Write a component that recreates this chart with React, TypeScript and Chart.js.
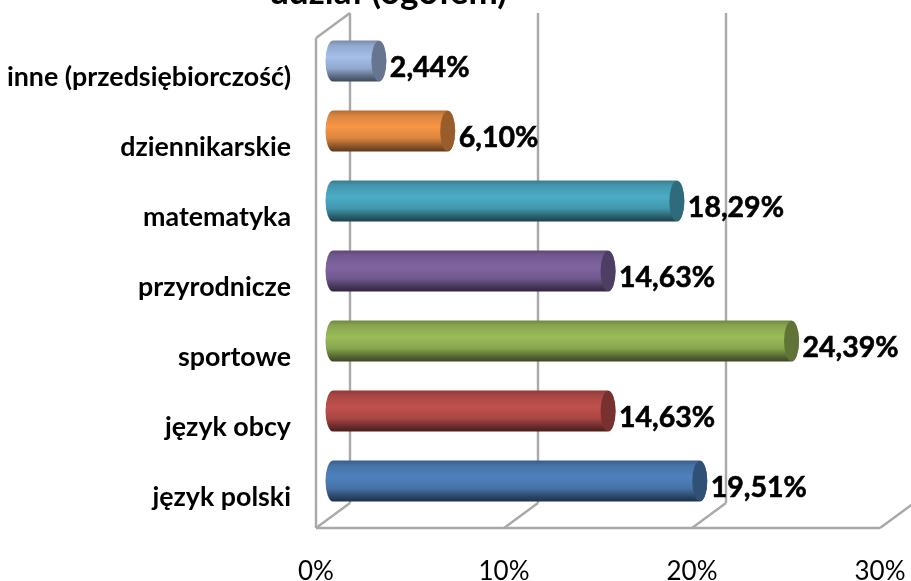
import React, { useEffect, useRef } from "react";
import { Chart, registerables } from "chart.js";

Chart.register(...registerables);

const titleText = "udział (ogółem)";
const categories = ["inne (przedsiębiorczość)", "dziennikarskie", "matematyka", "przyrodnicze", "sportowe", "język obcy", "język polski"];
const shares = [2.44, 6.1, 18.29, 14.63, 24.39, 14.63, 19.51];
const shareLabels = ["2,44%", "6,10%", "18,29%", "14,63%", "24,39%", "14,63%", "19,51%"];
const barColors = ["#a5bfea", "#f79646", "#4bacc6", "#8064a2", "#9bbb59", "#c0504d", "#4f81bd"];
const axisMax = 30;
const axisStep = 10;

const DEPTH_X = 34;
const DEPTH_Y = 25;
const BAR_DX = 17;
const BAR_DY = -12;
const CAP_RX = 7.5;
const FONT = "Lato, Carlito, sans-serif";

function shade(hex: string, f: number) {
  const n = parseInt(hex.slice(1), 16);
  const c = [(n >> 16) & 255, (n >> 8) & 255, n & 255].map((v) => Math.round(v * f));
  return `rgb(${c[0]},${c[1]},${c[2]})`;
}

function line(ctx: CanvasRenderingContext2D, x1: number, y1: number, x2: number, y2: number) {
  ctx.beginPath();
  ctx.moveTo(x1, y1);
  ctx.lineTo(x2, y2);
  ctx.stroke();
}

const cylinderPlugin = {
  id: "cylinder",
  beforeDatasetsDraw(chart: any) {
    const { ctx, scales } = chart;
    const sx = scales.x;
    const sy = scales.y;
    ctx.save();
    ctx.strokeStyle = "#a9a9a9";
    ctx.lineWidth = 2.4;
    line(ctx, sx.left, sy.top, sx.left, sy.bottom);
    line(ctx, sx.left, sy.top, sx.left + DEPTH_X, sy.top - DEPTH_Y);
    line(ctx, sx.left, sy.bottom, sx.right, sy.bottom);
    for (const t of sx.ticks) {
      const x = sx.getPixelForValue(t.value);
      line(ctx, x, sy.bottom, x + DEPTH_X, sy.bottom - DEPTH_Y);
      line(ctx, x + DEPTH_X, sy.bottom - DEPTH_Y, x + DEPTH_X, sy.top - DEPTH_Y);
    }
    ctx.restore();
  },
  beforeDatasetDraw() {
    return false;
  },
  afterDatasetsDraw(chart: any) {
    const { ctx } = chart;
    const meta = chart.getDatasetMeta(0);
    const colors = chart.data.datasets[0].backgroundColor;
    meta.data.forEach((el: any, i: number) => {
      const { x, y, base, height } = el.getProps(["x", "y", "base", "height"], true);
      const top = y - height / 2 + BAR_DY;
      const bottom = y + height / 2 + BAR_DY;
      const mid = (top + bottom) / 2;
      const x0 = base + BAR_DX;
      const x1 = x + BAR_DX;
      const c = colors[i];
      const g = ctx.createLinearGradient(0, top, 0, bottom);
      g.addColorStop(0, shade(c, 0.72));
      g.addColorStop(0.12, shade(c, 0.88));
      g.addColorStop(0.4, shade(c, 1));
      g.addColorStop(0.68, shade(c, 0.88));
      g.addColorStop(0.88, shade(c, 0.55));
      g.addColorStop(1, shade(c, 0.38));
      ctx.save();
      ctx.fillStyle = g;
      ctx.beginPath();
      ctx.moveTo(x1, top);
      ctx.lineTo(x0, top);
      ctx.ellipse(x0, mid, CAP_RX, height / 2, 0, -Math.PI / 2, Math.PI / 2, true);
      ctx.lineTo(x1, bottom);
      ctx.ellipse(x1, mid, CAP_RX, height / 2, 0, Math.PI / 2, -Math.PI / 2, true);
      ctx.closePath();
      ctx.fill();
      ctx.fillStyle = shade(c, 0.62);
      ctx.beginPath();
      ctx.ellipse(x1, mid, CAP_RX, height / 2 - 0.5, 0, 0, Math.PI * 2);
      ctx.fill();
      ctx.fillStyle = "#000";
      ctx.strokeStyle = "#000";
      ctx.lineWidth = 0.6;
      ctx.font = `bold 28.5px ${FONT}`;
      ctx.textAlign = "left";
      ctx.textBaseline = "middle";
      ctx.fillText(shareLabels[i], x1 + CAP_RX + 3.5, mid + 7);
      ctx.strokeText(shareLabels[i], x1 + CAP_RX + 3.5, mid + 7);
      ctx.restore();
    });
    ctx.save();
    ctx.fillStyle = "#000";
    ctx.font = `bold 35px ${FONT}`;
    ctx.textAlign = "center";
    ctx.textBaseline = "alphabetic";
    ctx.fillText(titleText, 388, 4);
    ctx.restore();
  },
};

export default function App() {
  const ref = useRef<HTMLCanvasElement>(null);
  useEffect(() => {
    document.body.style.margin = "0";
    const chart = new Chart(ref.current!, {
      type: "bar",
      plugins: [cylinderPlugin],
      data: {
        labels: categories,
        datasets: [
          {
            data: shares,
            backgroundColor: barColors,
            categoryPercentage: 1,
            barPercentage: 41 / 70,
          },
        ],
      },
      options: {
        indexAxis: "y",
        animation: false,
        responsive: false,
        layout: { padding: { top: 38, right: 31, left: 0, bottom: 0 } },
        plugins: { legend: { display: false }, tooltip: { enabled: false } },
        scales: {
          x: {
            min: 0,
            max: axisMax,
            grid: { display: false, drawTicks: false },
            border: { display: false },
            afterFit: (s: any) => {
              s.height = 53;
              s.paddingLeft = 0;
              s.paddingRight = 0;
            },
            ticks: {
              stepSize: axisStep,
              padding: 28,
              color: "#000",
              maxRotation: 0,
              font: { family: FONT, size: 26 },
              callback: (v: any) => `${v}%`,
            },
          },
          y: {
            grid: { display: false, drawTicks: false },
            border: { display: false },
            afterFit: (s: any) => {
              s.width = 316;
              s.paddingTop = 0;
              s.paddingBottom = 0;
            },
            ticks: {
              padding: 25,
              labelOffset: 4,
              color: "#000",
              font: { family: FONT, size: 26.8, weight: "bold" },
            },
          },
        },
      },
    });
    return () => chart.destroy();
  }, []);
  return <canvas ref={ref} width={911} height={581} style={{ display: "block", filter: "blur(0.6px)" }} />;
}
